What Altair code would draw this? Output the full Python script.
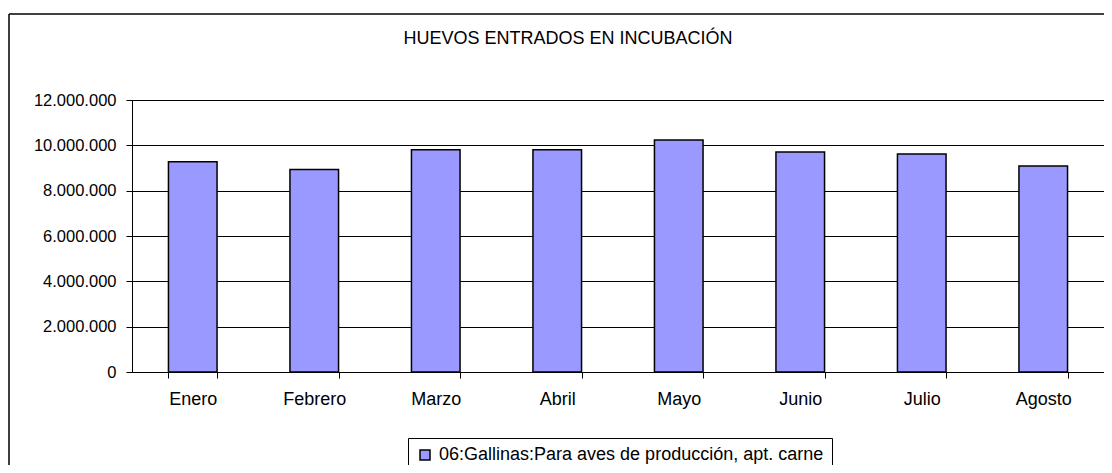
import altair as alt
import pandas as pd

meses = ["Enero", "Febrero", "Marzo", "Abril", "Mayo", "Junio", "Julio", "Agosto"]
valores = [9280000, 8930000, 9800000, 9800000, 10240000, 9710000, 9620000, 9090000]
serie = "06:Gallinas:Para aves de producción, apt. carne"
titulo = "HUEVOS ENTRADOS EN INCUBACIÓN"
y_ticks = [0, 2000000, 4000000, 6000000, 8000000, 10000000, 12000000]

df = pd.DataFrame({"mes": meses, "valor": valores, "serie": [serie] * len(meses)})
frame_df = pd.DataFrame({"k": [0]})

FONT = "Liberation Sans"
W, H = 972, 272

bars = alt.Chart(df).mark_bar(stroke="#000", strokeWidth=1.5).encode(
    x=alt.X(
        "mes:N", sort=meses, title=None,
        scale=alt.Scale(paddingInner=0.6, paddingOuter=0.3),
        axis=alt.Axis(labelAngle=0, labelFontSize=18, labelFont=FONT, labelColor="#000",
                      labelPadding=12, tickSize=6, tickBand="extent", tickColor="#000",
                      domainColor="#000", domainWidth=1, grid=False),
    ),
    y=alt.Y(
        "valor:Q", title=None,
        scale=alt.Scale(domain=[0, 12000000]),
        axis=alt.Axis(values=y_ticks, format=",d", labelFontSize=16.5, labelFont=FONT,
                      labelColor="#000", labelPadding=10, tickSize=6, tickColor="#000",
                      domainColor="#000", domainWidth=1, grid=True, gridColor="#000",
                      gridWidth=1),
    ),
    color=alt.Color(
        "serie:N", scale=alt.Scale(range=["#9999FF"]),
        legend=alt.Legend(title=None, orient="none", legendX=276, legendY=338,
                          strokeColor="#000", fillColor="#fff", padding=8,
                          labelFontSize=18, labelFont=FONT, labelColor="#000",
                          labelLimit=1000, labelOffset=5, symbolType="square",
                          symbolSize=100, symbolStrokeColor="#000",
                          symbolStrokeWidth=1.5, symbolOpacity=1),
    ),
)

frame_top = alt.Chart(frame_df).mark_rule(color="#000", strokeWidth=1.5).encode(
    x=alt.value(-123), x2=alt.value(W), y=alt.value(-86)
)
frame_left = alt.Chart(frame_df).mark_rule(color="#000", strokeWidth=1.5).encode(
    x=alt.value(-123), y=alt.value(-86), y2=alt.value(365)
)

chart = alt.layer(frame_top, frame_left, bars).properties(
    width=W, height=H,
    autosize=alt.AutoSizeParams(type="none"),
    padding={"left": 124, "top": 92, "right": 0, "bottom": 93},
    title=alt.TitleParams(titulo, fontSize=18, font=FONT, fontWeight="normal",
                          color="#000", anchor="middle", dx=-50, offset=0, dy=35),
).configure(
    locale={"number": {"decimal": ",", "thousands": ".", "grouping": [3],
                       "currency": ["", " €"]}},
    background="#fff",
).configure_view(stroke="#000", strokeWidth=1)

chart.save("out.html", embed_options={"renderer": "svg", "actions": False})
